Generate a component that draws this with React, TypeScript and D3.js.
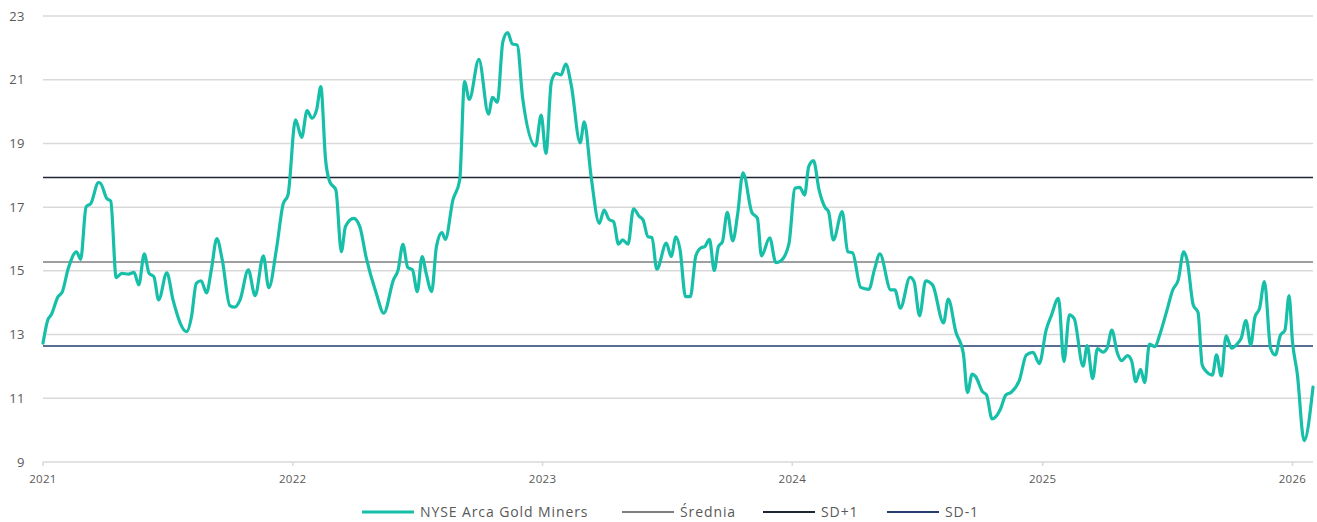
import * as d3 from "d3";

// weekly-ish closing values
const dates: string[] = [
  "2021-01-01", "2021-01-08", "2021-01-13", "2021-01-23", "2021-01-29", "2021-02-07", "2021-02-19", "2021-02-25",
  "2021-03-05", "2021-03-12", "2021-03-23", "2021-03-26", "2021-04-04", "2021-04-10", "2021-04-18", "2021-04-26",
  "2021-05-06", "2021-05-14", "2021-05-21", "2021-05-29", "2021-06-05", "2021-06-12", "2021-06-19", "2021-07-01",
  "2021-07-10", "2021-07-30", "2021-08-06", "2021-08-13", "2021-08-20", "2021-08-28", "2021-09-04", "2021-09-12",
  "2021-09-20", "2021-10-01", "2021-10-08", "2021-10-16", "2021-10-28", "2021-11-07", "2021-11-19", "2021-11-27",
  "2021-12-08", "2021-12-18", "2021-12-25",
  "2022-01-05", "2022-01-14", "2022-01-22", "2022-01-29", "2022-02-05", "2022-02-11", "2022-02-18", "2022-02-24",
  "2022-03-05", "2022-03-13", "2022-03-19", "2022-03-31", "2022-04-09", "2022-04-18", "2022-05-03", "2022-05-14",
  "2022-05-28", "2022-06-04", "2022-06-11", "2022-06-18", "2022-06-25", "2022-07-02", "2022-07-09", "2022-07-15",
  "2022-07-23", "2022-07-30", "2022-08-07", "2022-08-12", "2022-08-23", "2022-09-02", "2022-09-09", "2022-09-16",
  "2022-09-30", "2022-10-14", "2022-10-20", "2022-10-27", "2022-11-04", "2022-11-11", "2022-11-18", "2022-11-25",
  "2022-12-03", "2022-12-22", "2022-12-30",
  "2023-01-06", "2023-01-14", "2023-01-21", "2023-01-28", "2023-02-04", "2023-02-12", "2023-02-25", "2023-03-03",
  "2023-03-13", "2023-03-25", "2023-04-01", "2023-04-08", "2023-04-15", "2023-04-22", "2023-04-28", "2023-05-06",
  "2023-05-14", "2023-05-22", "2023-05-28", "2023-06-04", "2023-06-10", "2023-06-17", "2023-07-01", "2023-07-08",
  "2023-07-15", "2023-07-21", "2023-07-29", "2023-08-05", "2023-08-13", "2023-08-21", "2023-08-26", "2023-09-02",
  "2023-09-09", "2023-09-15", "2023-09-21", "2023-09-28", "2023-10-06", "2023-10-13", "2023-10-21", "2023-11-03",
  "2023-11-11", "2023-11-17", "2023-11-29", "2023-12-08", "2023-12-15", "2023-12-27",
  "2024-01-05", "2024-01-12", "2024-01-19", "2024-01-25", "2024-02-01", "2024-02-09", "2024-02-18", "2024-02-23",
  "2024-03-01", "2024-03-14", "2024-03-22", "2024-03-29", "2024-04-10", "2024-04-22", "2024-04-30", "2024-05-08",
  "2024-05-24", "2024-05-30", "2024-06-07", "2024-06-21", "2024-06-27", "2024-07-05", "2024-07-14", "2024-07-24",
  "2024-08-09", "2024-08-16", "2024-08-27", "2024-09-07", "2024-09-13", "2024-09-20", "2024-09-25", "2024-10-05",
  "2024-10-11", "2024-10-19", "2024-10-31", "2024-11-08", "2024-11-16", "2024-11-28", "2024-12-08", "2024-12-18",
  "2024-12-27",
  "2025-01-06", "2025-01-14", "2025-01-24", "2025-02-01", "2025-02-09", "2025-02-16", "2025-03-01", "2025-03-07",
  "2025-03-15", "2025-03-22", "2025-03-30", "2025-04-05", "2025-04-12", "2025-04-20", "2025-04-26", "2025-05-05",
  "2025-05-11", "2025-05-17", "2025-05-24", "2025-05-30", "2025-06-06", "2025-06-14", "2025-06-21", "2025-07-01",
  "2025-07-10", "2025-07-18", "2025-07-26", "2025-07-31", "2025-08-09", "2025-08-16", "2025-08-22", "2025-08-28",
  "2025-09-06", "2025-09-12", "2025-09-19", "2025-09-26", "2025-10-04", "2025-10-13", "2025-10-18", "2025-10-25",
  "2025-11-01", "2025-11-07", "2025-11-14", "2025-11-21", "2025-11-30", "2025-12-07", "2025-12-14", "2025-12-21",
  "2025-12-27",
  "2026-01-01", "2026-01-08", "2026-01-18", "2026-01-31",
];

const gdx: number[] = [
  12.73, 13.46, 13.62, 14.19, 14.33, 15.08, 15.6, 15.36,
  17.01, 17.12, 17.77, 17.75, 17.28, 17.19, 14.79, 14.92,
  14.9, 14.95, 14.56, 15.53, 14.92, 14.82, 14.09, 14.94,
  14.09, 13.09, 13.56, 14.61, 14.69, 14.31, 15.03, 16.01,
  15.34, 13.91, 13.86, 14.09, 15.03, 14.22, 15.47, 14.47,
  15.66, 17.1, 17.38,
  19.74, 19.19, 20.03, 19.79, 20.07, 20.78, 18.48, 17.8,
  17.54, 15.6, 16.39, 16.65, 16.39, 15.45, 14.3, 13.67,
  14.71, 15.03, 15.83, 15.11, 15.03, 14.35, 15.45, 14.92,
  14.35, 15.76, 16.2, 15.99, 17.22, 17.85, 20.94, 20.38,
  21.64, 19.92, 20.45, 20.29, 22.19, 22.48, 22.12, 22.09,
  20.42, 18.92, 19.89,
  18.69, 20.94, 21.2, 21.15, 21.49, 20.83, 19.02, 19.68,
  17.96, 16.49, 16.91, 16.62, 16.54, 15.84, 15.97, 15.84,
  16.95, 16.72, 16.6, 16.07, 16.05, 15.05, 15.87, 15.45,
  16.07, 15.66, 14.19, 14.19, 15.47, 15.73, 15.76, 15.99,
  15.01, 15.76, 15.92, 16.84, 15.94, 16.75, 18.08, 16.83,
  16.65, 15.47, 16.04, 15.26, 15.31, 15.84,
  17.59, 17.62, 17.38, 18.27, 18.46, 17.56, 16.99, 16.86,
  15.97, 16.86, 15.6, 15.57, 14.48, 14.42, 15.03, 15.53,
  14.4, 14.4, 13.83, 14.8, 14.66, 13.59, 14.69, 14.56,
  13.37, 14.11, 13.09, 12.41, 11.18, 11.76, 11.68, 11.21,
  11.1, 10.35, 10.65, 11.1, 11.19, 11.57, 12.36, 12.44,
  12.09,
  13.14, 13.62, 14.14, 12.15, 13.62, 13.5, 12.01, 12.65,
  11.62, 12.56, 12.45, 12.57, 13.14, 12.43, 12.18, 12.34,
  12.17, 11.52, 11.91, 11.49, 12.7, 12.62, 12.99, 13.72,
  14.4, 14.71, 15.6, 15.34, 13.93, 13.69, 12.05, 11.84,
  11.73, 12.36, 11.7, 12.96, 12.57, 12.73, 12.88, 13.44,
  12.67, 13.54, 13.83, 14.66, 12.57, 12.36, 12.96, 13.14,
  14.22,
  12.78, 11.78, 9.67, 11.35,
];

const refLabels = ["Średnia", "SD+1", "SD-1"];
const refValues = [15.28, 17.93, 12.64];
const refColors = ["#7f7f7f", "#1e2633", "#233d6e"];

const yTicks = [9, 11, 13, 15, 17, 19, 21, 23];
const xTickYears = [2021, 2022, 2023, 2024, 2025, 2026];

const seriesName = "NYSE Arca Gold Miners";
const teal = "#17bfa8";

const W = 1317;
const H = 522;
const left = 43;
const right = 1313;
const top = 16;
const bottom = 462;
const font = "'Open Sans', 'Segoe UI', sans-serif";

export default function App() {
  const parse = d3.timeParse("%Y-%m-%d");
  const data = dates.map((d, i) => ({ date: parse(d) as Date, v: gdx[i] }));

  const x = d3
    .scaleTime()
    .domain([data[0].date, data[data.length - 1].date])
    .range([left, right]);
  const y = d3.scaleLinear().domain([9, 23]).range([bottom, top]);

  const line = d3
    .line<{ date: Date; v: number }>()
    .x((d) => x(d.date))
    .y((d) => y(d.v))
    .curve(d3.curveMonotoneX);

  // legend items: series first, then the reference lines
  const legend = [
    { label: seriesName, color: teal, x: 362 },
    { label: refLabels[0], color: refColors[0], x: 622 },
    { label: refLabels[1], color: refColors[1], x: 763 },
    { label: refLabels[2], color: refColors[2], x: 887 },
  ];

  return (
    <svg
      width={W}
      height={H}
      style={{ position: "absolute", left: 0, top: 0, background: "#fff" }}
      fontFamily={font}
    >
      {/* gridlines */}
      {yTicks.map((t) => (
        <g key={t}>
          <line x1={left} x2={right} y1={y(t)} y2={y(t)} stroke="#d9d9d9" strokeWidth={1.5} />
          <text x={25} y={y(t)} dy="0.35em" textAnchor="end" fontSize={13} fill="#595959" letterSpacing={0.5}>
            {t}
          </text>
        </g>
      ))}

      {/* x axis ticks */}
      {xTickYears.map((yr) => {
        const px = x(new Date(yr, 0, 1));
        return (
          <g key={yr}>
            <line x1={px} x2={px} y1={bottom} y2={bottom + 4} stroke="#d9d9d9" strokeWidth={1.5} />
            <text x={px} y={bottom + 21} textAnchor="middle" fontSize={11.5} fill="#595959" letterSpacing={0.3}>
              {yr}
            </text>
          </g>
        );
      })}

      {/* mean and sd lines */}
      {refValues.map((v, i) => (
        <line key={refLabels[i]} x1={left} x2={right} y1={y(v)} y2={y(v)} stroke={refColors[i]} strokeWidth={1.5} />
      ))}

      <path d={line(data) || ""} fill="none" stroke={teal} strokeWidth={3.2} strokeLinejoin="round" strokeLinecap="round" />

      {/* legend */}
      {legend.map((l) => (
        <g key={l.label}>
          <line x1={l.x} x2={l.x + 52} y1={512} y2={512} stroke={l.color} strokeWidth={l.color === teal ? 3 : 2} />
          <text x={l.x + 58} y={512} dy="0.35em" fontSize={14} fill="#595959" letterSpacing={0.9}>
            {l.label}
          </text>
        </g>
      ))}
    </svg>
  );
}
